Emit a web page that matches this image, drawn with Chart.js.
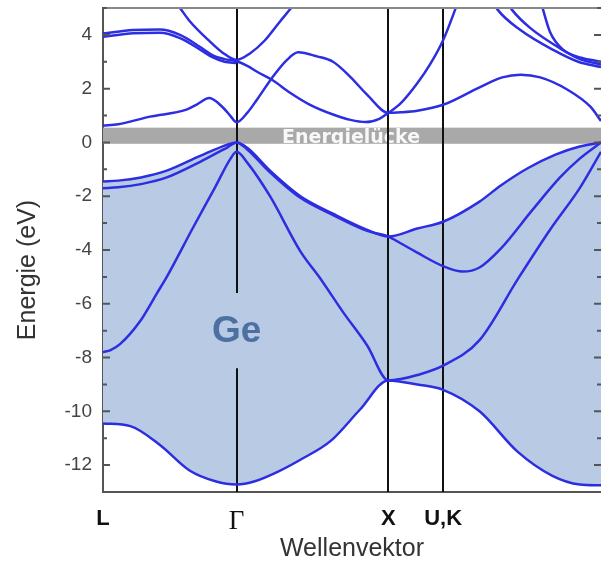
<!DOCTYPE html>
<html>
<head>
<meta charset="utf-8">
<script src="https://cdn.jsdelivr.net/npm/chart.js@4"></script>
<style>
  body { margin: 0; background: #fff; }
  canvas { display: block; }
</style>
</head>
<body>
<canvas id="bands" width="601" height="568"></canvas>
<script>
// k-path positions of the high symmetry points and their labels
const kTicks = [0, 0.88, 1.88, 2.24, 3.28];
const kNames = ["L", "Γ", "X", "U,K", ""];
const energyMin = -13;
const energyMax = 5;

// valence bands [k, E in eV]
const vb1 = [[0,-10.45],[0.18,-10.55],[0.375,-11.25],[0.57,-12.2],[0.74,-12.6],[0.88,-12.72],[1.0,-12.6],[1.15,-12.25],[1.3,-11.8],[1.5,-11.1],[1.69,-9.95],[1.88,-8.85],[1.96,-8.9],[2.07,-9.0],[2.24,-9.2],[2.48,-10.0],[2.73,-11.5],[2.96,-12.4],[3.14,-12.72],[3.28,-12.75]];
const vb2 = [[0,-7.8],[0.05,-7.72],[0.112,-7.5],[0.244,-6.65],[0.356,-5.6],[0.42,-5.0],[0.59,-3.2],[0.74,-1.65],[0.84,-0.6],[0.88,-0.35],[0.95,-0.75],[1.1,-2.0],[1.3,-4.05],[1.43,-5.05],[1.58,-6.3],[1.74,-7.55],[1.88,-8.85],[1.96,-8.8],[2.07,-8.65],[2.24,-8.3],[2.48,-7.35],[2.73,-5.1],[2.95,-3.2],[3.14,-1.7],[3.28,-0.35]];
const vb3 = [[0,-1.7],[0.1,-1.67],[0.25,-1.55],[0.42,-1.3],[0.64,-0.72],[0.82,-0.18],[0.88,0],[0.95,-0.26],[1.1,-1.11],[1.3,-2.06],[1.515,-2.7],[1.74,-3.29],[1.88,-3.5],[1.96,-3.75],[2.07,-4.1],[2.24,-4.6],[2.37,-4.8],[2.48,-4.65],[2.62,-3.95],[2.83,-2.5],[3.01,-1.3],[3.14,-0.6],[3.28,0]];
const vb4 = [[0,-1.45],[0.1,-1.42],[0.25,-1.3],[0.42,-1.05],[0.64,-0.5],[0.82,-0.08],[0.88,0],[0.95,-0.2],[1.1,-1.05],[1.3,-2.0],[1.515,-2.65],[1.74,-3.25],[1.88,-3.5],[2.07,-3.2],[2.24,-2.95],[2.48,-2.2],[2.62,-1.6],[2.8,-0.95],[2.98,-0.45],[3.14,-0.15],[3.28,0]];

// conduction bands
const cb1 = [[0,0.63],[0.1,0.68],[0.31,0.96],[0.55,1.22],[0.62,1.42],[0.7,1.65],[0.79,1.3],[0.84,0.98],[0.88,0.75],[0.95,1.1],[1.015,1.6],[1.113,2.4],[1.212,3.07],[1.285,3.35],[1.41,3.2],[1.515,3.0],[1.627,2.45],[1.739,1.78],[1.88,1.1],[1.96,1.12],[2.07,1.18],[2.24,1.4],[2.48,2.05],[2.63,2.42],[2.75,2.52],[2.88,2.42],[3.06,1.96],[3.21,1.33],[3.28,0.8]];
const cb2 = [[0,4.05],[0.2,4.18],[0.375,4.2],[0.507,4.0],[0.64,3.55],[0.72,3.25],[0.8,3.1],[0.88,3.02],[0.95,2.85],[1.015,2.63],[1.113,2.33],[1.232,1.85],[1.364,1.4],[1.515,1.04],[1.63,0.84],[1.73,0.76],[1.82,0.88],[1.88,1.1],[1.96,1.45],[2.07,2.2],[2.154,2.9],[2.24,3.8],[2.32,4.95],[2.4,6.2]];
const cb3 = [[0,3.93],[0.2,4.06],[0.375,4.08],[0.507,3.88],[0.64,3.45],[0.72,3.17],[0.8,3.0],[0.88,2.95]];
const cb4 = [[0.44,5.5],[0.507,5.0],[0.573,4.5],[0.705,3.75],[0.79,3.33],[0.88,3.07],[0.97,3.32],[1.067,3.8],[1.166,4.5],[1.232,4.95],[1.3,5.45]];
const cb5 = [[2.55,5.4],[2.6,4.93],[2.747,4.19],[2.965,3.44],[3.13,3.0],[3.28,2.8]];
const cb6 = [[2.64,5.4],[2.694,4.93],[2.813,4.26],[3.01,3.5],[3.15,3.08],[3.28,2.9]];
const cb7 = [[2.87,5.6],[2.899,4.93],[2.945,4.1],[3.03,3.45],[3.15,3.15],[3.28,3.0]];

// band gap strip and labels
const gapBand = [-0.05, 0.55];
const gapLabel = "Energielücke";
const gapLabelK = 1.634;
const materialLabel = "Ge";
const materialE = -7.05;
const gammaLineGap = [-5.6, -8.4];

const bandColor = "rgb(45,45,225)";
const fillColor = "#b9cbe4";

function toPoints(arr) {
  return arr.map(p => ({ x: p[0], y: p[1] }));
}

function band(arr, extra) {
  return Object.assign({
    data: toPoints(arr),
    borderColor: bandColor,
    borderWidth: 2.5,
    pointRadius: 0,
    fill: false,
    cubicInterpolationMode: "monotone"
  }, extra || {});
}

const decor = {
  id: "decor",
  beforeDatasetsDraw(chart) {
    const { ctx, chartArea: a, scales: { x, y } } = chart;
    ctx.save();
    // gap strip
    const gTop = y.getPixelForValue(gapBand[1]);
    const gBot = y.getPixelForValue(gapBand[0]);
    ctx.fillStyle = "#a9a9a9";
    ctx.fillRect(a.left, gTop, a.right - a.left, gBot - gTop);
    ctx.font = 'bold 19px "DejaVu Sans"';
    ctx.fillStyle = "rgba(255,255,255,0.92)";
    ctx.textAlign = "center";
    ctx.textBaseline = "alphabetic";
    ctx.fillText(gapLabel, x.getPixelForValue(gapLabelK), gBot - 1);

    // material label
    ctx.font = 'bold 37px "Liberation Sans"';
    ctx.fillStyle = "#4d70a3";
    ctx.textBaseline = "middle";
    ctx.fillText(materialLabel, x.getPixelForValue(kTicks[1]), y.getPixelForValue(materialE));

    // vertical lines at high symmetry points
    ctx.strokeStyle = "#111";
    ctx.lineWidth = 2;
    kTicks.slice(1, 4).forEach((k, i) => {
      const px = Math.round(x.getPixelForValue(k));
      ctx.beginPath();
      if (i === 0) {
        ctx.moveTo(px, a.top);
        ctx.lineTo(px, y.getPixelForValue(gammaLineGap[0]));
        ctx.moveTo(px, y.getPixelForValue(gammaLineGap[1]));
        ctx.lineTo(px, a.bottom);
      } else {
        ctx.moveTo(px, a.top);
        ctx.lineTo(px, a.bottom);
      }
      ctx.stroke();
    });
    ctx.restore();
  },
  afterDraw(chart) {
    const { ctx, chartArea: a, scales: { y } } = chart;
    ctx.save();
    // top frame
    ctx.strokeStyle = "#888";
    ctx.lineWidth = 2;
    ctx.beginPath();
    ctx.moveTo(a.left, a.top);
    ctx.lineTo(a.right, a.top);
    ctx.stroke();
    // inward tick marks on both sides
    ctx.strokeStyle = "#555";
    y.ticks.forEach(t => {
      const py = y.getPixelForValue(t.value);
      const len = t.value % 2 === 0 ? 7 : 4;
      ctx.beginPath();
      ctx.moveTo(a.left, py);
      ctx.lineTo(a.left + len, py);
      ctx.moveTo(a.right - len, py);
      ctx.lineTo(a.right, py);
      ctx.stroke();
    });
    // y axis title
    ctx.translate(28, 270);
    ctx.rotate(-Math.PI / 2);
    ctx.font = '25px "Liberation Sans"';
    ctx.fillStyle = "#333";
    ctx.textAlign = "center";
    ctx.textBaseline = "middle";
    ctx.fillText("Energie (eV)", 0, 0);
    ctx.restore();
  }
};

new Chart(document.getElementById("bands"), {
  type: "line",
  data: {
    datasets: [
      band(vb1),
      band(vb2),
      band(vb3),
      band(vb4, { fill: { target: "-3", above: fillColor, below: fillColor } }),
      band(cb1),
      band(cb2),
      band(cb3),
      band(cb4),
      band(cb5),
      band(cb6),
      band(cb7)
    ]
  },
  options: {
    responsive: false,
    animation: false,
    layout: { padding: { top: 8, right: 0, left: 0, bottom: 0 } },
    plugins: {
      legend: { display: false },
      tooltip: { enabled: false },
      filler: { drawTime: "beforeDatasetsDraw" }
    },
    scales: {
      x: {
        type: "linear",
        min: kTicks[0],
        max: kTicks[4],
        afterFit(s) {
          s.height = 76;
          s.paddingLeft = 0;
          s.paddingRight = 0;
        },
        afterBuildTicks(s) { s.ticks = kTicks.slice(0, 4).map(v => ({ value: v })); },
        grid: { display: false, drawTicks: false },
        border: { color: "#555", width: 2 },
        ticks: {
          autoSkip: false,
          maxRotation: 0,
          padding: 14,
          color: "#111",
          callback: (v, i) => kNames[i],
          font: c => c.index === 1
            ? { family: "Liberation Serif", size: 27 }
            : { family: "Liberation Sans", size: 22, weight: "bold" }
        },
        title: {
          display: true,
          text: "Wellenvektor",
          color: "#333",
          font: { family: "Liberation Sans", size: 25 },
          padding: { top: 0, bottom: 4 }
        }
      },
      y: {
        min: energyMin,
        max: energyMax,
        afterFit(s) {
          s.width = 103;
          s.paddingTop = 0;
          s.paddingBottom = 0;
        },
        grid: { display: false, drawTicks: false },
        border: { color: "#555", width: 2 },
        ticks: {
          stepSize: 1,
          autoSkip: false,
          padding: 11,
          color: "#444",
          font: { family: "Liberation Sans", size: 19 },
          callback: v => (v % 2 === 0 ? v : "")
        }
      }
    }
  },
  plugins: [decor]
});
</script>
</body>
</html>
